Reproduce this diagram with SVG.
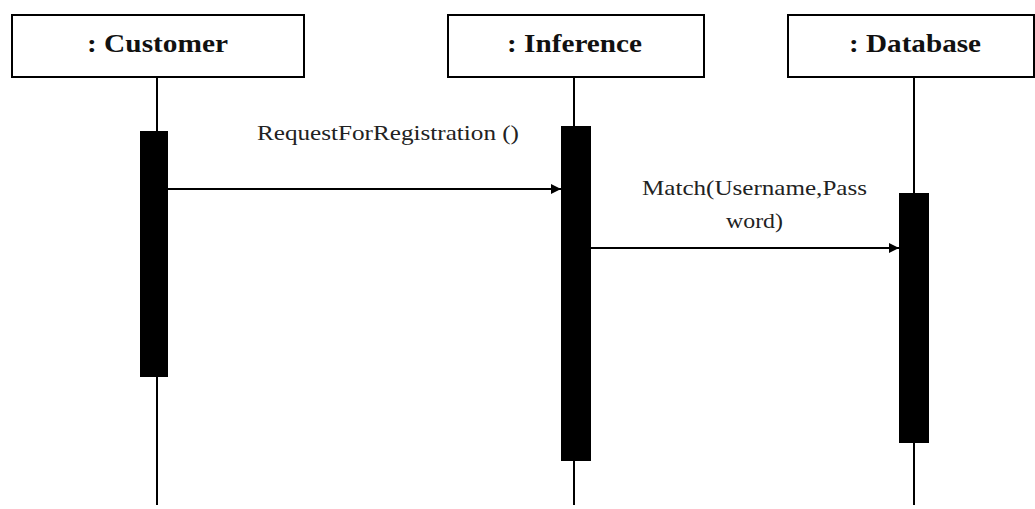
<svg xmlns="http://www.w3.org/2000/svg" width="1035" height="509" viewBox="0 0 1035 509">
  <style>
    .head { fill: #ffffff; stroke: #000000; stroke-width: 2; }
    .title { font-family: "Liberation Serif", "DejaVu Serif", "Times New Roman", serif; font-weight: bold; font-size: 25px; fill: #111111; text-anchor: middle; }
    .life { stroke: #000000; stroke-width: 2; fill: none; }
    .act { fill: #000000; }
    .msg { stroke: #000000; stroke-width: 2; fill: none; marker-end: url(#arrow); }
    .label { font-family: "Liberation Serif", "DejaVu Serif", "Times New Roman", serif; font-size: 21px; fill: #222222; text-anchor: middle; }
  </style>
  <defs>
    <marker id="arrow" viewBox="0 0 10 10" refX="10" refY="5" markerWidth="10" markerHeight="10" markerUnits="userSpaceOnUse" orient="auto">
      <path d="M0,0 L10,5 L0,10 Z" fill="#000000"/>
    </marker>
  </defs>
  <rect width="1035" height="509" fill="#ffffff"/>

  <g id="customer">
    <line class="life" x1="157" y1="77" x2="157" y2="505"/>
    <rect class="head" x="12" y="15" width="292" height="62"/>
    <text class="title" x="157.5" y="52" textLength="141" lengthAdjust="spacingAndGlyphs">: Customer</text>
    <rect class="act" x="140" y="131" width="28" height="246"/>
  </g>

  <g id="inference">
    <line class="life" x1="574" y1="77" x2="574" y2="505"/>
    <rect class="head" x="448" y="15" width="256" height="62"/>
    <text class="title" x="574.5" y="52" textLength="135" lengthAdjust="spacingAndGlyphs">: Inference</text>
    <rect class="act" x="561" y="126" width="30" height="335"/>
  </g>

  <g id="database">
    <line class="life" x1="914" y1="77" x2="914" y2="505"/>
    <rect class="head" x="788" y="15" width="246" height="62"/>
    <text class="title" x="915" y="52" textLength="132" lengthAdjust="spacingAndGlyphs">: Database</text>
    <rect class="act" x="899" y="193" width="30" height="250"/>
  </g>

  <g id="connectors">
    <line class="msg" x1="168" y1="189" x2="561" y2="189"/>
    <text class="label" x="388" y="140" textLength="262" lengthAdjust="spacingAndGlyphs">RequestForRegistration ()</text>
    <line class="msg" x1="591" y1="248" x2="899" y2="248"/>
    <text class="label" x="754.5" y="195" textLength="225" lengthAdjust="spacingAndGlyphs">Match(Username,Pass</text>
    <text class="label" x="754.5" y="228" textLength="57" lengthAdjust="spacingAndGlyphs">word)</text>
  </g>
</svg>
